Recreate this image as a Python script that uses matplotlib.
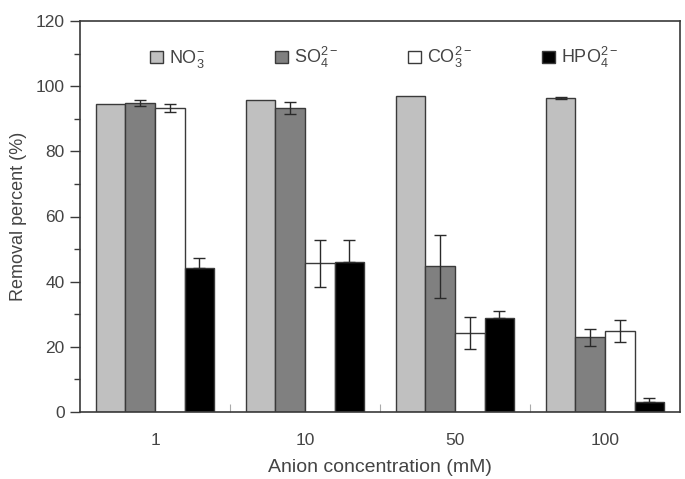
import numpy as np
import matplotlib
matplotlib.use("Agg")
import matplotlib.pyplot as plt
from matplotlib.patches import Patch
from matplotlib.ticker import MultipleLocator, FixedLocator

plt.rcParams['font.family'] = ['Liberation Sans', 'DejaVu Sans']
plt.rcParams['mathtext.fontset'] = 'custom'
plt.rcParams['mathtext.rm'] = 'Liberation Sans'
plt.rcParams['mathtext.default'] = 'regular'

# data
concentrations = ['1', '10', '50', '100']
anion_labels = [r'NO$_3^{-}$', r'SO$_4^{2-}$', r'CO$_3^{2-}$', r'HPO$_4^{2-}$']
no3 = [94.4, 95.9, 96.9, 96.3]
no3_err = [0.0, 0.0, 0.0, 0.3]
so4 = [94.8, 93.3, 44.7, 22.9]
so4_err = [1.0, 1.7, 9.7, 2.6]
co3 = [93.3, 45.7, 24.3, 24.9]
co3_err = [1.1, 7.2, 4.9, 3.4]
hpo4 = [44.2, 46.1, 29.0, 3.2]
hpo4_err = [3.0, 6.6, 2.1, 1.1]

series = [no3, so4, co3, hpo4]
errors = [no3_err, so4_err, co3_err, hpo4_err]
colors = ['#c0c0c0', '#808080', '#ffffff', '#000000']

text_col = '#444444'
edge_col = '#3a3a3a'

fig = plt.figure(figsize=(6.85, 4.79), dpi=100)
ax = fig.add_axes([80/685, 1-412/479, 600/685, (412-21)/479])

x = np.arange(len(concentrations))
w = 0.197  # bar width in category units
for k in range(4):
    pos = x + (k - 1.5)*w
    ax.bar(pos, series[k], w, color=colors[k], edgecolor=edge_col, linewidth=1.0, zorder=2)
    err = np.array(errors[k])
    keep = err > 0  # no whiskers where no error was shown
    if k == 3:
        # black bars: only the upper whisker shows
        yerr = [np.zeros(keep.sum()), err[keep]]
    else:
        yerr = err[keep]
    ax.errorbar(pos[keep], np.array(series[k])[keep], yerr=yerr, fmt='none',
                ecolor='#2a2a2a', elinewidth=1.0, capsize=4.5, capthick=1.0, zorder=3)

ax.set_xlim(-0.5, len(concentrations)-0.5)
ax.set_ylim(0, 120)

# y axis: major every 20, minor every 10, outward ticks
ax.yaxis.set_major_locator(MultipleLocator(20))
ax.yaxis.set_minor_locator(MultipleLocator(10))
ax.tick_params(axis='y', which='major', direction='out', length=7, width=1.0,
               color=edge_col, labelsize=12.5, labelcolor=text_col, pad=4)
ax.tick_params(axis='y', which='minor', direction='out', length=4, width=1.0, color=edge_col)

# x axis: labels at category centres, small inward ticks at boundaries
ax.set_xticks(x)
ax.set_xticklabels(concentrations)
ax.xaxis.set_minor_locator(FixedLocator(np.arange(0.5, len(concentrations)-1, 1.0)))
ax.tick_params(axis='x', which='major', length=0, labelsize=12.5, labelcolor=text_col, pad=15)
ax.tick_params(axis='x', which='minor', direction='in', length=6, width=0.8, color='#aaaaaa')

for s in ax.spines.values():
    s.set_color(edge_col)
    s.set_linewidth(1.2)

ax.set_ylabel('Removal percent (%)', fontsize=13, color=text_col, labelpad=6)
ax.set_xlabel('Anion concentration (mM)', fontsize=14, color=text_col, labelpad=8)

handles = [Patch(facecolor=c, edgecolor=edge_col, linewidth=1.0) for c in colors]
ax.legend(handles, anion_labels, ncol=4, loc='upper left', mode='expand',
          bbox_to_anchor=(0.09, 0.93, 0.835, 0.05), frameon=False, fontsize=13,
          handlelength=0.7, handleheight=0.7, handletextpad=0.35,
          labelcolor=text_col)

fig.savefig('out.png', dpi=100)
